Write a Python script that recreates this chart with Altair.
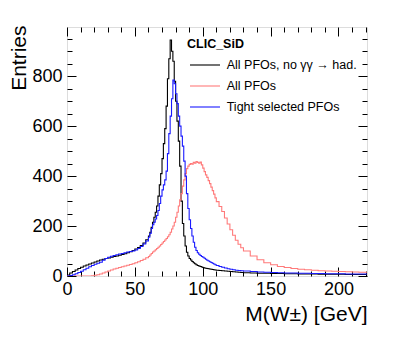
import altair as alt
import pandas as pd

# Bin left edges (GeV); last edge closes the histogram
mass_edges = [0, 2, 4, 6, 8, 10, 12, 14, 16, 18, 20, 22, 24, 26, 28, 30, 32, 34, 36, 38,
              40, 42, 44, 46, 48, 50, 52, 54, 56, 58,
              60, 61, 62, 63, 64, 65, 66, 67, 68, 69, 70,
              71, 72, 73, 74, 75, 76, 77, 78, 79, 80,
              81, 82, 83, 84, 85, 86, 87, 88, 89, 90,
              91, 92, 93, 94, 95, 96, 97, 98, 99, 100,
              101, 102, 103, 104, 105, 106, 107, 108, 109, 110,
              112, 114, 116, 118, 120, 122, 124, 126, 128,
              130, 135, 140, 145, 150, 155, 160, 165, 170, 175, 180, 185, 190, 195,
              200, 205, 210, 215]
mass_end = 221

no_gg = [4, 12, 18, 24, 30, 35, 40, 44, 48, 52, 56, 60, 64, 67, 70, 72, 75, 78, 80, 83,
         86, 89, 93, 97, 102, 108, 114, 122, 132, 145,
         160, 175, 195, 215, 235, 255, 280, 320, 365, 410, 470,
         530, 590, 680, 790, 870, 945, 900, 860, 780, 700,
         620, 540, 440, 300, 210, 160, 120, 95, 80, 70,
         64, 58, 53, 49, 45, 42, 40, 38, 36, 34,
         32, 31, 30, 29, 28, 27, 26, 25, 24, 23,
         22, 21, 20, 19, 18, 17, 16, 15, 14,
         13, 12, 11, 11, 10, 10, 9, 9, 8, 8, 8, 7, 7, 7, 7, 6, 6, 6]

all_pfos = [0, 0, 0, 0, 0, 0, 0, 0, 0, 1, 3, 5, 8, 12, 16, 20, 24, 28, 31, 34,
            37, 40, 43, 46, 49, 53, 57, 62, 67, 73,
            78, 84, 90, 96, 100, 105, 110, 115, 120, 126, 132,
            138, 144, 150, 157, 165, 175, 188, 200, 215, 235,
            255, 280, 305, 330, 360, 385, 410, 430, 440, 447,
            450, 448, 455, 452, 458, 455, 452, 456, 445, 432,
            418, 405, 395, 382, 370, 356, 342, 328, 313, 298,
            278, 258, 232, 208, 185, 163, 143, 127, 113,
            100, 80, 65, 53, 45, 38, 34, 30, 27, 25, 23, 21, 20, 19, 18, 17, 16, 15]

tight = [0, 2, 5, 9, 14, 19, 25, 31, 37, 42, 47, 51, 55, 63, 70, 75, 79, 82, 85, 88,
         90, 93, 96, 98, 100, 104, 110, 118, 128, 140,
         155, 170, 190, 205, 215, 228, 242, 262, 290, 320, 345,
         365, 385, 420, 490, 570, 640, 710, 785, 770, 730,
         690, 640, 600, 560, 520, 460, 400, 330, 270, 225,
         190, 160, 135, 115, 102, 93, 87, 82, 78, 75,
         71, 67, 63, 60, 57, 54, 51, 48, 45, 42,
         38, 35, 32, 29, 27, 25, 23, 22, 21,
         20, 18, 16, 15, 14, 13, 12, 12, 11, 11, 10, 10, 9, 9, 9, 8, 8, 8]

series_names = ["All PFOs, no γγ → had.", "All PFOs", "Tight selected PFOs"]
series_colors = ["#000000", "#ff7a7a", "#1a1aff"]
legend_title = "CLIC_SiD"

x_major = [0, 50, 100, 150, 200]
x_minor = [10, 20, 30, 40, 60, 70, 80, 90, 110, 120, 130, 140, 160, 170, 180, 190, 210, 220]
y_major = [0, 200, 400, 600, 800]
y_minor = [50, 100, 150, 250, 300, 350, 450, 500, 550, 650, 700, 750, 850, 900, 950]

rows = []
for name, vals in zip(series_names, [no_gg, all_pfos, tight]):
    for e, v in zip(mass_edges, vals):
        rows.append({"series": name, "mass": e, "entries": v})
    rows.append({"series": name, "mass": mass_end, "entries": vals[-1]})
df = pd.DataFrame(rows)

W, H = 300, 249
FONT = "Liberation Sans"
xscale = alt.Scale(domain=[0, 221], nice=False, zero=False)
yscale = alt.Scale(domain=[0, 997], nice=False, zero=False)

base = alt.Chart(df)

main = base.mark_line(interpolate="step-after", strokeWidth=1.1, clip=True).encode(
    x=alt.X("mass:Q", scale=xscale,
            axis=alt.Axis(values=x_major, ticks=False, domain=False, grid=False,
                          labelFontSize=18, labelFont=FONT, labelColor="black",
                          labelPadding=4, labelFlush=False,
                          title="M(W±) [GeV]", titleFont=FONT, titleFontSize=21,
                          titleFontWeight="normal", titleColor="black",
                          titleX=W, titleY=44, titleAlign="right",
                          titleBaseline="alphabetic")),
    y=alt.Y("entries:Q", scale=yscale,
            axis=alt.Axis(values=y_major, ticks=False, domain=False, grid=False,
                          labelFontSize=18, labelFont=FONT, labelColor="black",
                          labelPadding=5, labelFlush=False,
                          title="Entries", titleFont=FONT, titleFontSize=21,
                          titleFontWeight="normal", titleColor="black",
                          titleX=-48, titleY=-2, titleAngle=-90, titleAlign="right",
                          titleBaseline="middle")),
    color=alt.Color("series:N",
                    scale=alt.Scale(domain=series_names, range=series_colors),
                    legend=None),
)


def tick_layer(xorient, yorient, xvals, yvals, size, xoff, yoff):
    return base.mark_line(opacity=0).encode(
        x=alt.X("mass:Q", scale=xscale,
                axis=alt.Axis(orient=xorient, offset=xoff, values=xvals, labels=False,
                              domain=False, grid=False, tickSize=size, tickWidth=1,
                              tickColor="black", title=None)),
        y=alt.Y("entries:Q", scale=yscale,
                axis=alt.Axis(orient=yorient, offset=yoff, values=yvals, labels=False,
                              domain=False, grid=False, tickSize=size, tickWidth=1,
                              tickColor="black", title=None)),
        detail="series:N",
    )


layers = [
    main,
    tick_layer("top", "right", x_major, y_major, 9, -H, -W),
    tick_layer("top", "right", x_minor, y_minor, 5, -H, -W),
    tick_layer("bottom", "left", x_major, y_major, 9, -H, -W),
    tick_layer("bottom", "left", x_minor, y_minor, 5, -H, -W),
]

# Legend drawn inside the frame (ROOT TLegend style)
leg_df = pd.DataFrame({"series": series_names, "col": series_colors})
layers.append(
    alt.Chart(pd.DataFrame({"t": [legend_title]})).mark_text(
        align="left", baseline="middle", font=FONT, fontSize=12.5,
        fontWeight="bold", color="black").encode(
        x=alt.value(120), y=alt.value(17), text="t:N")
)
for i, (name, col) in enumerate(zip(series_names, series_colors)):
    one = alt.Chart(pd.DataFrame({"series": [name]}))
    layers.append(one.mark_rule(color=col, strokeWidth=1.1).encode(
        x=alt.value(123), x2=alt.value(153), y=alt.value(38 + 21 * i)))
    layers.append(one.mark_text(align="left", baseline="middle", font=FONT,
                                fontSize=12.5, color="black").encode(
        x=alt.value(159.7), y=alt.value(38 + 21 * i), text="series:N"))

chart = alt.layer(*layers).resolve_axis(x="independent", y="independent").properties(
    width=W, height=H,
    autosize=alt.AutoSizeParams(type="none"),
    padding={"left": 59, "top": 19, "right": 24, "bottom": 53},
).configure_view(stroke="black", strokeWidth=1.2).configure(background="white")

chart.save("out.html", embed_options={"renderer": "svg", "actions": False})
